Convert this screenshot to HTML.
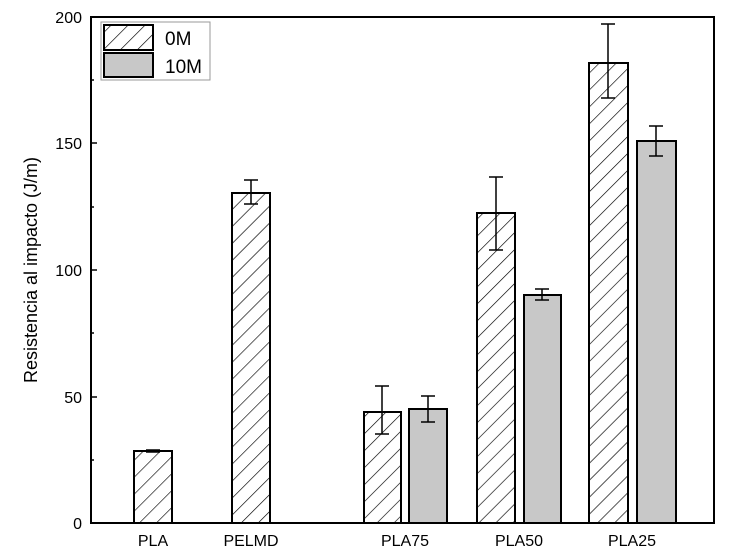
<!DOCTYPE html>
<html><head><style>body{margin:0;background:#fff}svg{display:block}</style></head><body>
<svg width="733" height="555" xmlns="http://www.w3.org/2000/svg" font-family="Liberation Sans, sans-serif">
<defs><pattern id="h" patternUnits="userSpaceOnUse" width="12" height="12" patternTransform="rotate(45)"><rect width="12" height="12" fill="#fff"/><line x1="0" y1="0" x2="0" y2="12" stroke="#000" stroke-width="1.3"/></pattern></defs>
<rect x="91" y="17" width="623" height="506" fill="none" stroke="#000" stroke-width="2"/>
<g stroke="#000" stroke-width="1.5">
<line x1="91" y1="397" x2="97" y2="397"/><line x1="91" y1="270" x2="97" y2="270"/><line x1="91" y1="143" x2="97" y2="143"/>
<line x1="91" y1="460" x2="94" y2="460"/><line x1="91" y1="333" x2="94" y2="333"/><line x1="91" y1="207" x2="94" y2="207"/><line x1="91" y1="80" x2="94" y2="80"/>
</g>
<g font-size="16" text-anchor="end"><text x="82" y="529">0</text><text x="82" y="403">50</text><text x="82" y="276">100</text><text x="82" y="149">150</text><text x="82" y="23">200</text></g>
<text transform="translate(37,270) rotate(-90)" font-size="18" text-anchor="middle">Resistencia al impacto (J/m)</text>
<g font-size="16" text-anchor="middle"><text x="153" y="546">PLA</text><text x="251" y="546">PELMD</text><text x="405" y="546">PLA75</text><text x="519" y="546">PLA50</text><text x="632" y="546">PLA25</text></g>
<g stroke="#000" stroke-width="2">
<rect x="134" y="451" width="38" height="72" fill="url(#h)"/>
<rect x="232" y="193" width="38" height="330" fill="url(#h)"/>
<rect x="364" y="412" width="37" height="111" fill="url(#h)"/>
<rect x="409" y="409" width="38" height="114" fill="#c8c8c8"/>
<rect x="477" y="213" width="38" height="310" fill="url(#h)"/>
<rect x="524" y="295" width="37" height="228" fill="#c8c8c8"/>
<rect x="589" y="63" width="39" height="460" fill="url(#h)"/>
<rect x="637" y="141" width="39" height="382" fill="#c8c8c8"/>
</g>
<g stroke="#000" stroke-width="1.5" fill="none">
<path d="M153 450v2M146 450h14M146 452h14"/>
<path d="M251 180v24M244 180h14M244 204h14"/>
<path d="M382 386v48M375 386h14M375 434h14"/>
<path d="M428 396v26M421 396h14M421 422h14"/>
<path d="M496 177v73M489 177h14M489 250h14"/>
<path d="M542 289v11M535 289h14M535 300h14"/>
<path d="M608 24v74M601 24h14M601 98h14"/>
<path d="M656 126v30M649 126h14M649 156h14"/>
</g>
<rect x="101" y="22" width="109" height="58" fill="#fff" stroke="#999" stroke-width="1"/>
<rect x="104" y="25" width="49" height="25" fill="url(#h)" stroke="#000" stroke-width="2"/>
<rect x="104" y="53" width="49" height="24" fill="#c8c8c8" stroke="#000" stroke-width="2"/>
<text x="165" y="45" font-size="19">0M</text>
<text x="165" y="73" font-size="19">10M</text>
</svg>
</body></html>
